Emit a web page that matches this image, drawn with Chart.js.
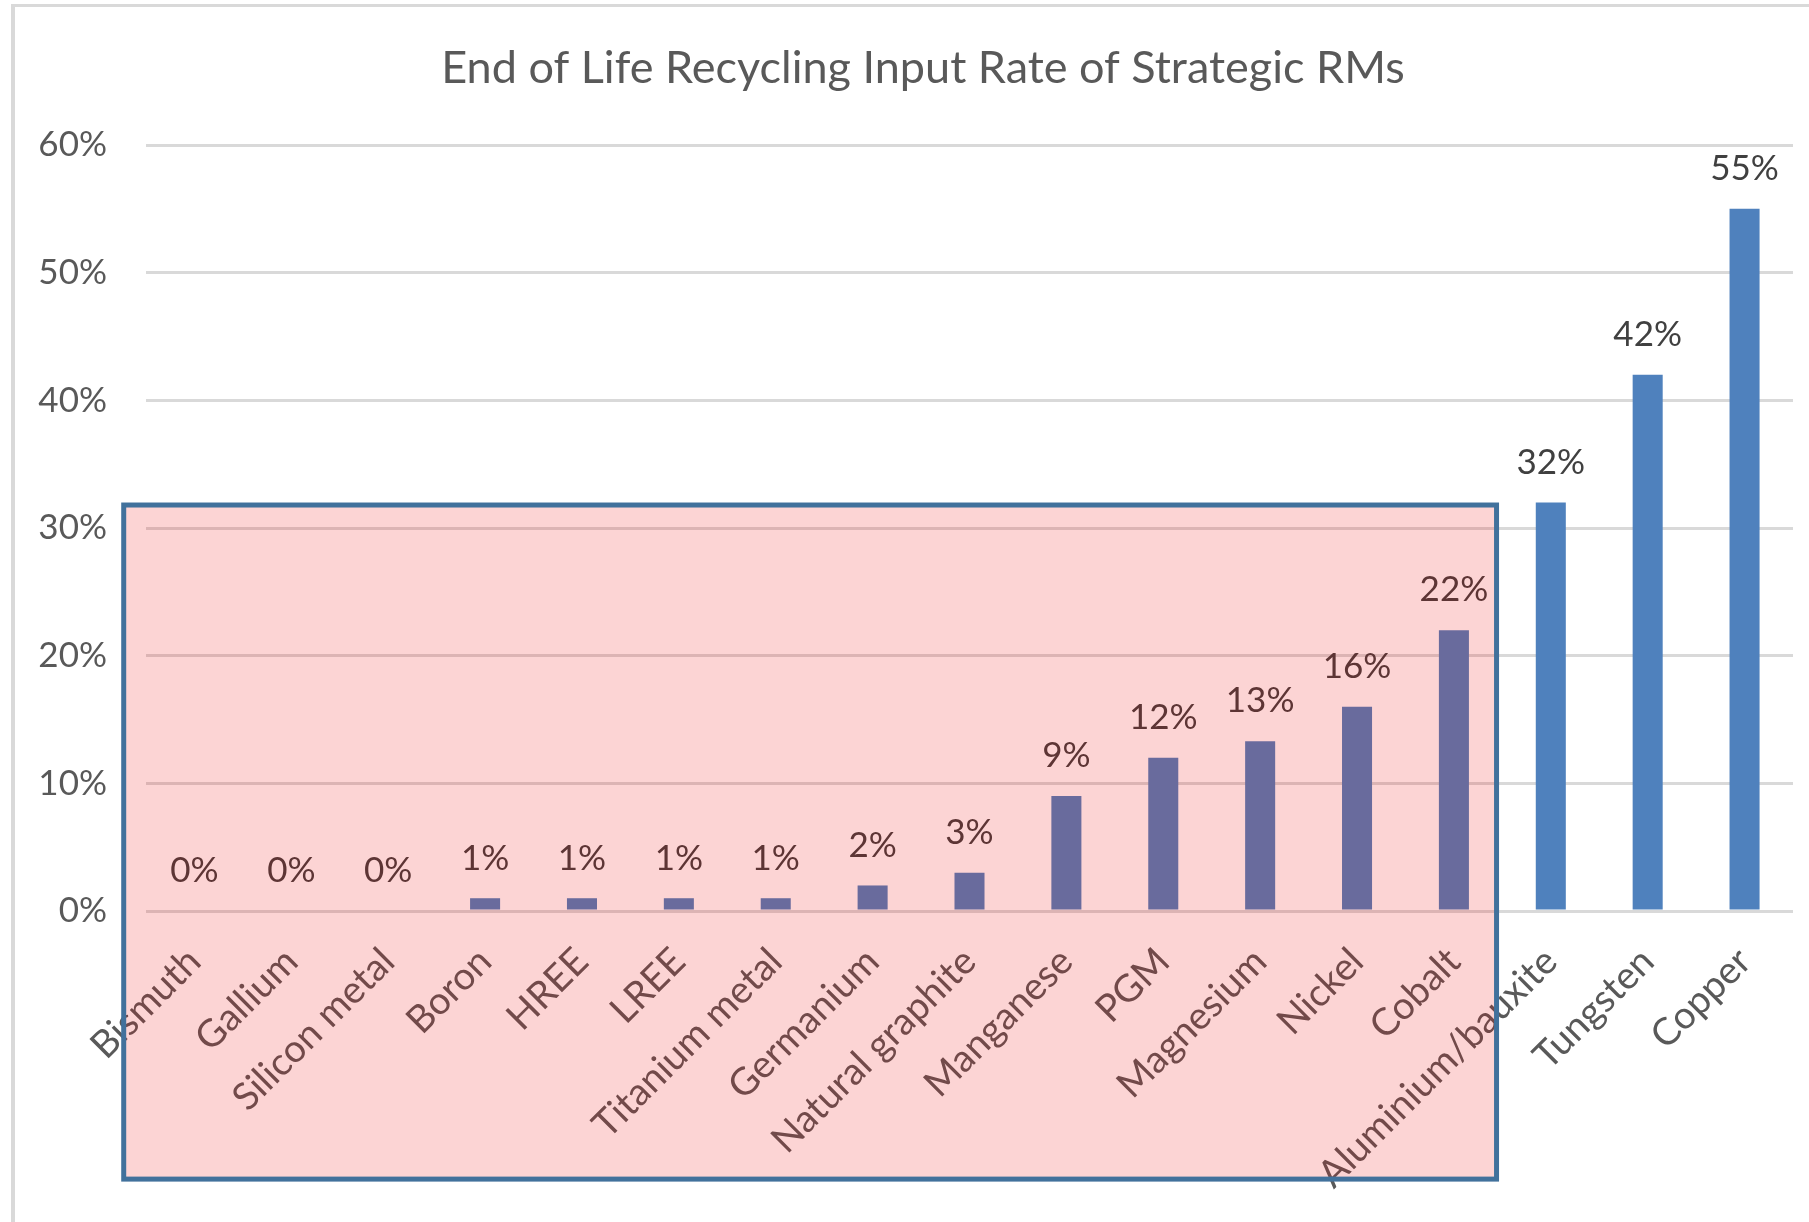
<!DOCTYPE html>
<html>
<head>
<meta charset="utf-8">
<title>End of Life Recycling Input Rate of Strategic RMs</title>
<script src="https://cdn.jsdelivr.net/npm/chart.js@4.4.1/dist/chart.umd.min.js"></script>
<style>
  html, body { margin: 0; padding: 0; background: #fff; overflow: hidden; }
  #wrap { position: relative; width: 1809px; height: 1222px; overflow: hidden; }
  #frame { position: absolute; left: 11px; top: 4px; width: 1900px; height: 1300px; border-left: 4px solid #d9d9d9; border-top: 3px solid #d9d9d9; pointer-events: none; }
  canvas { position: absolute; left: 0; top: 0; }
</style>
</head>
<body>
<div id="wrap">
  <canvas id="chart" width="1809" height="1222"></canvas>
  <div id="frame"></div>
</div>
<script>
// Data
const title = 'End of Life Recycling Input Rate of Strategic RMs';
const materials = ['Bismuth', 'Gallium', 'Silicon metal', 'Boron', 'HREE', 'LREE', 'Titanium metal',
    'Germanium', 'Natural graphite', 'Manganese', 'PGM', 'Magnesium', 'Nickel', 'Cobalt',
    'Aluminium/bauxite', 'Tungsten', 'Copper'];
const rates = [0, 0, 0, 0.01, 0.01, 0.01, 0.01, 0.02, 0.03, 0.09, 0.12, 0.133, 0.16, 0.22, 0.32, 0.42, 0.55];
const yTicks = [0, 0.1, 0.2, 0.3, 0.4, 0.5, 0.6];

// Highlight box (category index units / axis values)
const boxFrom = -0.73;
const boxTo = 13.44;
const boxTop = 0.318;
const boxBottom = -0.21;

const fontFamily = "Lato, 'Open Sans', sans-serif";
const pct = v => Math.round(v * 100) + '%';

// Title, centred over the plot like the Excel original
const chartTitle = {
    id: 'chartTitle',
    afterDraw(chart) {
        const { ctx } = chart;
        ctx.save();
        ctx.font = `45px ${fontFamily}`;
        ctx.fillStyle = '#595959';
        ctx.textAlign = 'center';
        ctx.textBaseline = 'middle';
        ctx.fillText(title, 923, 68);
        ctx.restore();
    }
};

// Value labels above bars
const barLabels = {
    id: 'barLabels',
    afterDatasetsDraw(chart) {
        const { ctx } = chart;
        const meta = chart.getDatasetMeta(0);
        ctx.save();
        ctx.font = `35px ${fontFamily}`;
        ctx.fillStyle = '#404040';
        ctx.textAlign = 'center';
        ctx.textBaseline = 'middle';
        meta.data.forEach((bar, i) => {
            ctx.fillText(pct(rates[i]), bar.x, bar.y - 40);
        });
        ctx.restore();
    }
};

// Translucent red box over the low-rate materials
const highlightBox = {
    id: 'highlightBox',
    afterDraw(chart) {
        const { ctx, scales: { x, y } } = chart;
        const left = x.getPixelForValue(boxFrom);
        const right = x.getPixelForValue(boxTo);
        const top = y.getPixelForValue(boxTop);
        const bottom = y.getPixelForValue(boxBottom);
        ctx.save();
        ctx.fillStyle = 'rgba(240, 0, 0, 0.17)';
        ctx.fillRect(left, top, right - left, bottom - top);
        ctx.strokeStyle = '#41719c';
        ctx.lineWidth = 5;
        ctx.strokeRect(left, top, right - left, bottom - top);
        ctx.restore();
    }
};

const chart = new Chart(document.getElementById('chart'), {
    type: 'bar',
    data: {
        labels: materials,
        datasets: [{
            data: rates,
            backgroundColor: '#4f81bd',
            barPercentage: 0.31,
            categoryPercentage: 1
        }]
    },
    options: {
        responsive: false,
        animation: false,
        layout: { padding: { left: 0, right: 16, top: 145, bottom: 0 } },
        plugins: {
            legend: { display: false },
            tooltip: { enabled: false },
            title: { display: false }
        },
        scales: {
            x: {
                grid: { display: false },
                border: { display: false },
                ticks: {
                    color: '#595959',
                    font: { family: fontFamily, size: 38 },
                    minRotation: 45,
                    maxRotation: 45,
                    autoSkip: false,
                    padding: 20
                },
                afterFit: s => { s.height = 311; }
            },
            y: {
                min: 0,
                max: 0.6,
                grid: { color: '#d9d9d9', lineWidth: 3, drawTicks: false },
                border: { display: false },
                ticks: {
                    color: '#595959',
                    font: { family: fontFamily, size: 35 },
                    padding: 39,
                    callback: v => pct(v)
                },
                afterBuildTicks: s => { s.ticks = yTicks.map(v => ({ value: v })); },
                afterFit: s => { s.width = 146; }
            }
        }
    },
    plugins: [barLabels, chartTitle, highlightBox]
});
</script>
</body>
</html>
